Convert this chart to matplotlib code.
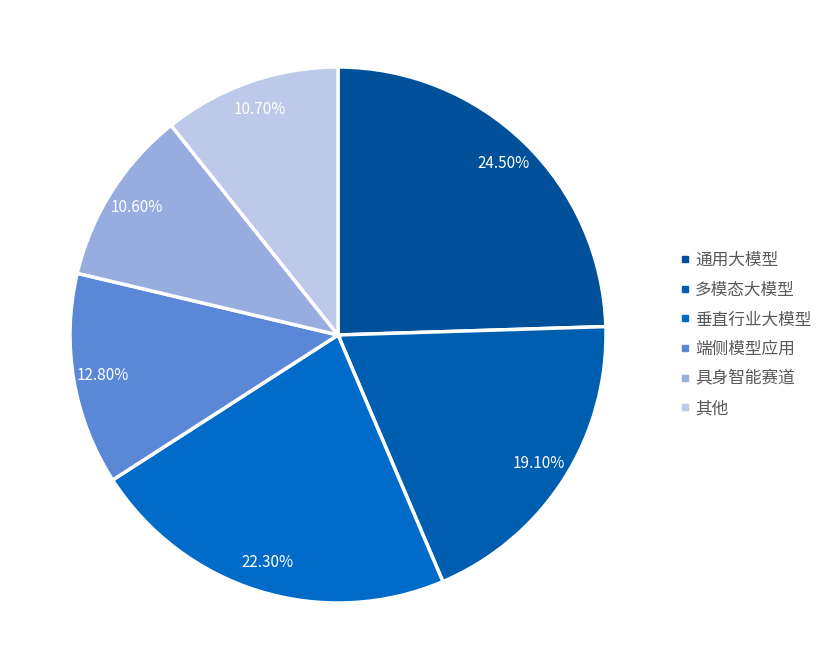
import matplotlib.pyplot as plt
from matplotlib.lines import Line2D

plt.rcParams['font.family'] = ['Noto Sans CJK SC', 'DejaVu Sans']

labels = ['通用大模型', '多模态大模型', '垂直行业大模型', '端侧模型应用', '具身智能赛道', '其他']
values = [24.5, 19.1, 22.3, 12.8, 10.6, 10.7]
colors = ['#00509A', '#005EB0', '#006BC8', '#5B88D6', '#97ACDF', '#BDC9E8']

W, H = 833, 670
fig = plt.figure(figsize=(W / 100, H / 100), dpi=100)
cx, cy, r = 338, 335, 268
ax = fig.add_axes([(cx - r) / W, (H - cy - r) / H, 2 * r / W, 2 * r / H])

wedges, texts, autotexts = ax.pie(
    values, colors=colors, startangle=90, counterclock=False,
    autopct=lambda p: '%.2f%%' % p, pctdistance=0.89,
    wedgeprops=dict(edgecolor='white', linewidth=2.5),
    textprops=dict(color='white', fontsize=11))
ax.set_aspect('equal')
ax.set_xlim(-1, 1)
ax.set_ylim(-1, 1)

handles = [Line2D([0], [0], marker='s', linestyle='none', markersize=4,
                  markerfacecolor=c, markeredgecolor=c) for c in colors]
leg = fig.legend(handles, labels, loc='upper left',
                 bbox_to_anchor=(665 / W, 1 - 237 / H), frameon=False,
                 fontsize=12, handlelength=0.6, handletextpad=0.3,
                 labelspacing=0.76, labelcolor='#595959')

fig.savefig('out.png', dpi=100)
